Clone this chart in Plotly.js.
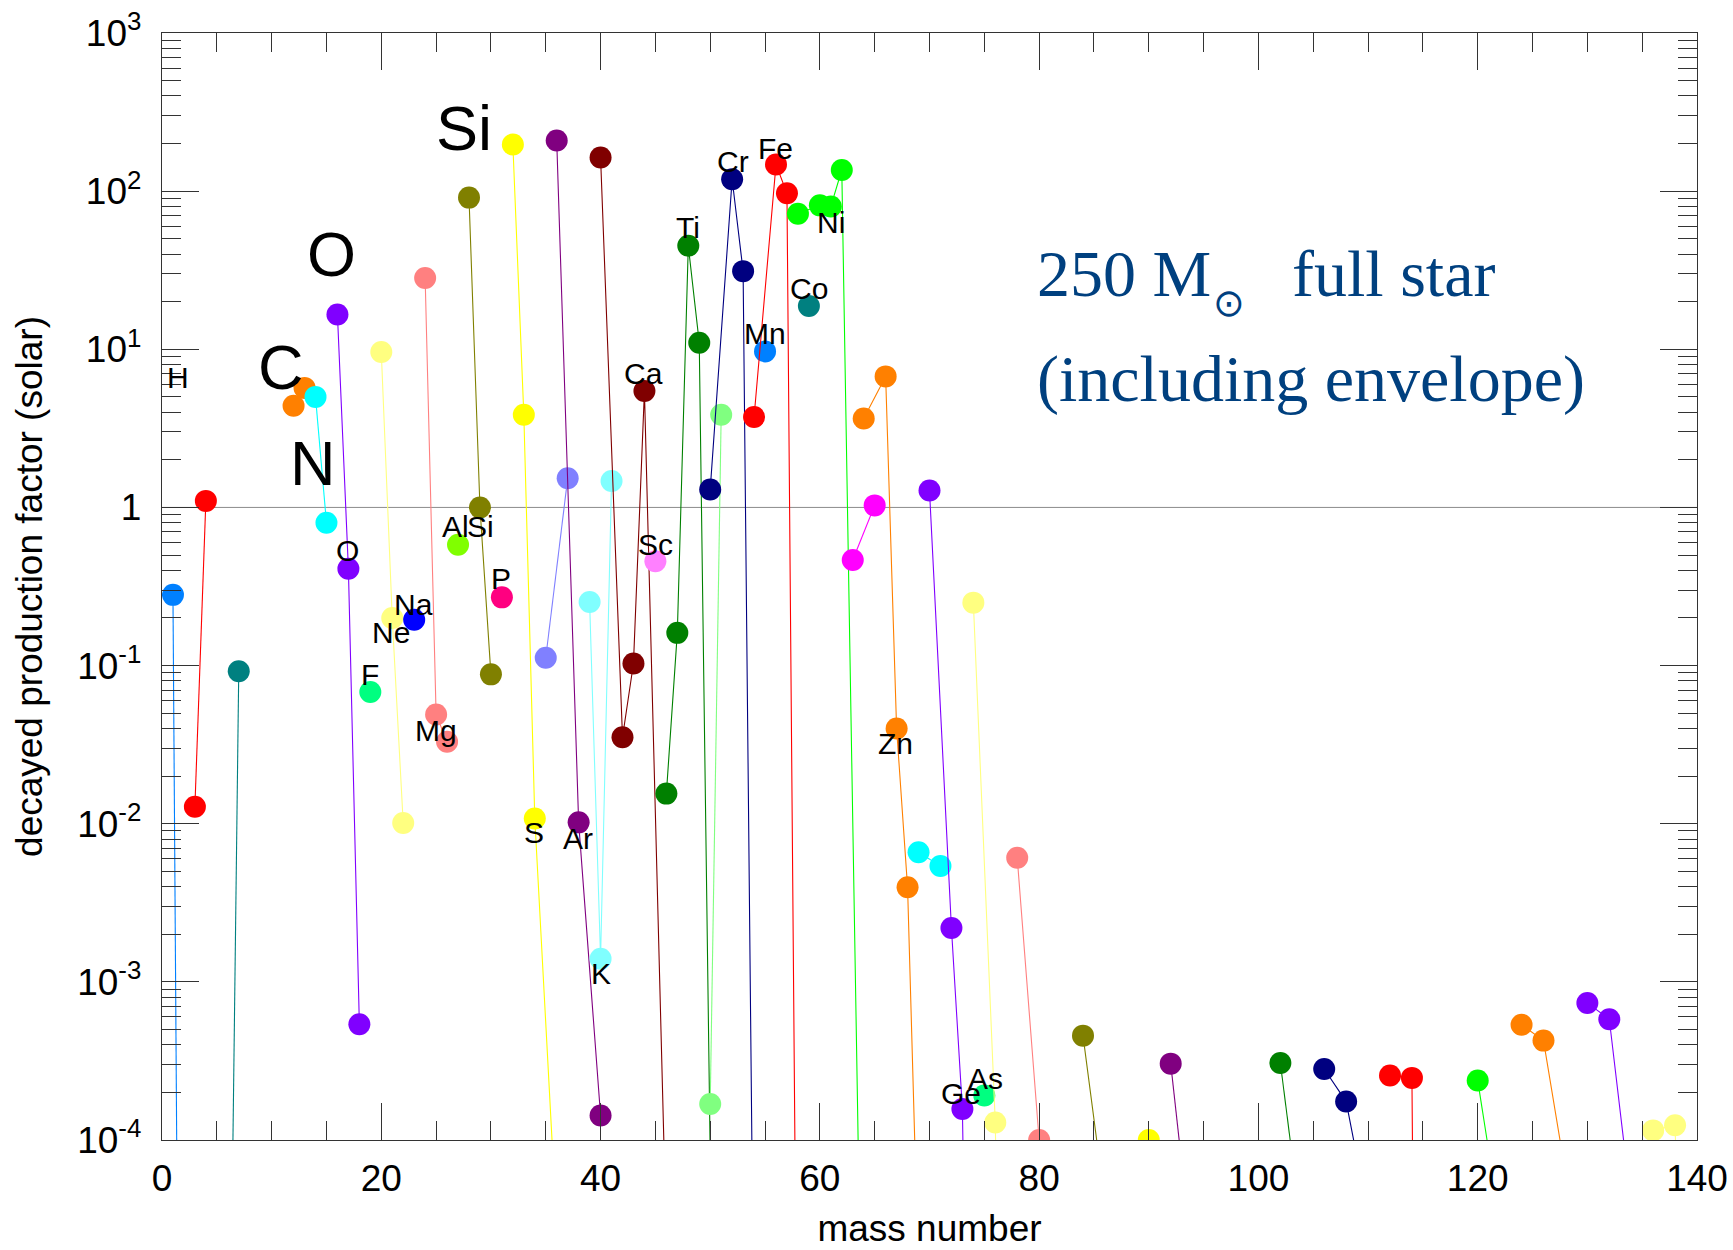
<!DOCTYPE html>
<html>
<head>
<meta charset="utf-8">
<script src="https://cdn.plot.ly/plotly-3.0.1.min.js"></script>
<style>html,body{margin:0;padding:0;background:#fff;}#chart{width:1733px;height:1250px;}</style>
</head>
<body>
<div id="chart"></div>
<script>
// ---- data ----
const elements = ['H','He','Li','C','N','O','F','Ne','Na','Mg','Al','Si','P','S','Cl','Ar','K','Ca','Sc','Ti','V','Cr','Mn','Fe','Co','Ni','Cu','Zn','Ga','Ge','As','Se','Kr','Sr','Zr','Mo','Pd','Cd','Sn','Te','Xe','Ba','Ce'];
const atomicNumber = [1,2,3,6,7,8,9,10,11,12,13,14,15,16,17,18,19,20,21,22,23,24,25,26,27,28,29,30,31,32,33,34,36,38,40,42,46,48,50,52,54,56,58];
const massNumbers = [
  [1,2],[3,4],[6,7],[12,13],[14,15],[16,17,18],[19],[20,21,22],[23],[24,25,26],[27],[28,29,30],[31],
  [32,33,34,36],[35,37],[36,38,40],[39,40,41],[40,42,43,44,46,48],[45],[46,47,48,49,50],[50,51],
  [50,52,53,54],[55],[54,56,57,58],[59],[58,60,61,62,64],[63,65],[64,66,67,68,70],[69,71],
  [70,72,73,74,76],[75],[74,76,77,78,80,82],[78,80,82,83,84,86],[84,86,87,88],[90,91,92,94,96],
  [92,94],[102,104],[106,108,110],[112,114,115],[120,122],[124,126,128],[130,132,134],[136,138,140]
];
const productionFactor = [
  [0.28,2e-11],[0.0128,1.1],[2.3e-7,0.092],[4.4,5.7],[5.0,0.80],[16.6,0.41,5.4e-4],[0.068],
  [9.6,0.20,0.0101],[0.195],[28.2,0.049,0.033],[0.58],[91,1.0,0.088],[0.27],
  [197,3.85,0.0108,2.8e-5],[0.112,1.53],[209,0.0102,1.43e-4],[0.252,1.40e-3,1.47],
  [163,0.0352,0.103,5.45,2.4e-5,1e-6],[0.457],[0.0155,0.161,45.1,11.0,8e-5],[1.69e-4,3.86],
  [1.30,119,31.2,4e-6],[9.7],[3.73,147.5,97,5e-7],[18.8],[71.9,81.3,80,136,8e-7],[0.465,1.03],
  [3.65,6.74,0.040,0.00397,5e-8],[0.0066,0.0054],[1.28,0.00219,1.57e-4,1e-8,1e-8],[1.91e-4],
  [0.25,1.29e-4,1e-8,1e-8,1e-8,1e-8],[0.0061,1.0e-4,1e-8,1e-8,1e-8,1e-8],[4.57e-4,4e-5,1e-8,1e-8],
  [1.0e-4,1e-8,1e-8,1e-8,1e-8],[3.04e-4,1.7e-5],[3.07e-4,2.5e-5],[2.81e-4,1.75e-4,3.4e-5],
  [2.56e-4,2.47e-4,1e-12],[2.38e-4,3.1e-5],[5.36e-4,4.25e-4,6.2e-5],[7.36e-4,5.8e-4,3.9e-5],
  [1.15e-4,1.24e-4,1e-9]
];
const yTickVals = [1e-4,1e-3,1e-2,1e-1,1,1e1,1e2,1e3];
const yTickText = ['10<sup>-4</sup>','10<sup>-3</sup>','10<sup>-2</sup>','10<sup>-1</sup>','1','10<sup>1</sup>','10<sup>2</sup>','10<sup>3</sup>'];

// element labels: [text, mass, value]
const smallLabels = [
  ['H',1.48,6.6],['O',16.92,0.537],['F',18.95,0.0877],['Ne',20.87,0.162],['Na',22.9,0.245],
  ['Mg',24.99,0.039],['Al',26.8,0.763],['Si',29.07,0.763],['P',30.92,0.357],['S',33.93,0.00875],
  ['Ar',37.98,0.00809],['K',40.01,0.00113],['Ca',43.96,7.0],['Sc',45.04,0.58],['Ti',48.0,58.9],
  ['Cr',52.06,154],['Mn',55.0,12.6],['Fe',55.97,187],['Co',58.98,24.3],['Ni',61.04,63.2],
  ['Zn',66.9,0.032],['Ge',72.91,1.98e-4],['As',75.11,2.45e-4]
];
const bigLabels = [['C',10.84,7.7],['N',13.8,1.92],['O',15.45,39.8],['Si',27.5,251]];

// ---- styles ----
const palette = ['#0080FF','#FF0000','#008080','#00FF00','#FF00FF','#FF8000','#00FFFF','#8000FF',
  '#00FF80','#FFFF80','#0000FF','#FF8080','#80FF00','#808000','#FF0080','#FFFF00',
  '#8080FF','#800080','#80FFFF','#800000','#FF80FF','#008000','#80FF80','#000080'];

const traces = elements.map((el, i) => {
  const c = palette[(atomicNumber[i] - 1) % palette.length];
  return {
    type: 'scatter', mode: 'lines+markers', name: el,
    x: massNumbers[i], y: productionFactor[i],
    line: {color: c, width: 1.1},
    marker: {color: c, size: 22, line: {width: 0}},
    hoverinfo: 'skip', cliponaxis: true
  };
});

const minorY = [];
for (let e = -4; e < 3; e++) for (let d = 2; d <= 9; d++) minorY.push(d * Math.pow(10, e));

const annotations = [];
smallLabels.forEach(l => annotations.push({
  text: l[0], x: l[1], y: Math.log10(l[2]), xref: 'x', yref: 'y', showarrow: false,
  xanchor: 'center', yanchor: 'middle', font: {size: 30, color: '#000'}
}));
bigLabels.forEach(l => annotations.push({
  text: l[0], x: l[1], y: Math.log10(l[2]), xref: 'x', yref: 'y', showarrow: false,
  xanchor: 'center', yanchor: 'middle', font: {size: 63, color: '#000'}
}));
const blue = '#00407f';
const serif = 'Liberation Serif, Times New Roman, serif';
annotations.push({text: '250 M', xref: 'paper', yref: 'paper', x: 0.5690, y: 0.7828, xanchor: 'left', yanchor: 'middle', showarrow: false, font: {family: serif, size: 66, color: blue}});
annotations.push({text: '\u2299', xref: 'paper', yref: 'paper', x: 0.695, y: 0.756, xanchor: 'center', yanchor: 'middle', showarrow: false, font: {family: 'DejaVu Sans', size: 38, color: blue}});
annotations.push({text: 'full star', xref: 'paper', yref: 'paper', x: 0.7350, y: 0.7828, xanchor: 'left', yanchor: 'middle', showarrow: false, font: {family: serif, size: 66, color: blue}});
annotations.push({text: '(including envelope)', xref: 'paper', yref: 'paper', x: 0.5690, y: 0.6877, xanchor: 'left', yanchor: 'middle', showarrow: false, font: {family: serif, size: 66, color: blue}});

const axisCol = '#333';
const layout = {
  width: 1733, height: 1250,
  margin: {l: 162, r: 36, t: 33, b: 110, pad: 0},
  paper_bgcolor: '#fff', plot_bgcolor: '#fff',
  showlegend: false,
  font: {family: 'Liberation Sans, Arial, sans-serif', size: 37, color: '#000'},
  xaxis: {
    range: [0, 140], tickmode: 'linear', tick0: 0, dtick: 20,
    ticks: 'inside', ticklen: 37, tickwidth: 1, tickcolor: axisCol,
    showline: true, linecolor: axisCol, linewidth: 1.2, mirror: 'ticks',
    showgrid: false, zeroline: false,
    minor: {tickmode: 'linear', tick0: 0, dtick: 5, ticks: 'inside', ticklen: 19, tickwidth: 1, tickcolor: axisCol, showgrid: false},
    tickfont: {size: 37}, ticklabelstandoff: 5,
    title: {text: 'mass number', font: {size: 37}, standoff: 17}
  },
  yaxis: {
    type: 'log', range: [-4, 3], tickmode: 'array', tickvals: yTickVals, ticktext: yTickText,
    ticks: 'inside', ticklen: 37, tickwidth: 1, tickcolor: axisCol,
    showline: true, linecolor: axisCol, linewidth: 1.2, mirror: 'ticks',
    showgrid: false, zeroline: false,
    minor: {tickmode: 'array', tickvals: minorY, ticks: 'inside', ticklen: 19, tickwidth: 1, tickcolor: axisCol, showgrid: false},
    tickfont: {size: 37}, ticklabelstandoff: 12,
    title: {text: 'decayed production factor (solar)', font: {size: 37}, standoff: 23}
  },
  shapes: [{type: 'line', xref: 'paper', x0: 0, x1: 1, yref: 'y', y0: 1, y1: 1, layer: 'below', line: {color: '#8c8c8c', width: 1}}],
  annotations: annotations
};

Plotly.newPlot('chart', traces, layout, {displayModeBar: false, staticPlot: true});
</script>
</body>
</html>
